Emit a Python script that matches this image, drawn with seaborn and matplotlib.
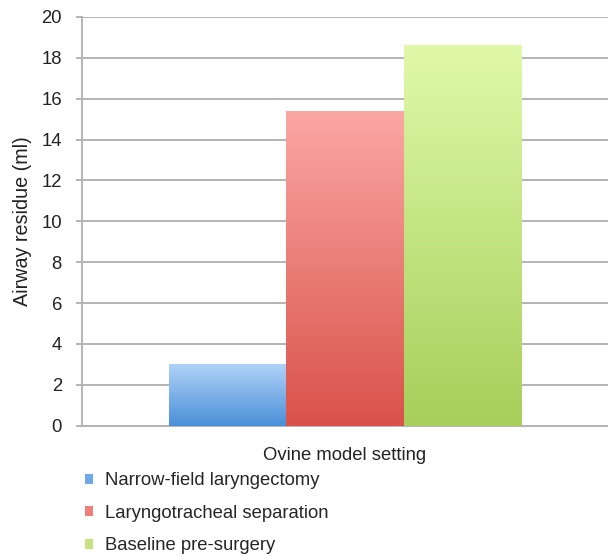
import numpy as np
import pandas as pd
import matplotlib
matplotlib.use("Agg")
import matplotlib.pyplot as plt
import seaborn as sns
from matplotlib.colors import LinearSegmentedColormap
from matplotlib.patches import Rectangle

# Values
setting = ["Ovine model setting"] * 3
categories = ["Narrow-field laryngectomy", "Laryngotracheal separation", "Baseline pre-surgery"]
residue_ml = [3.0, 15.4, 18.6]
y_ticks = [0, 2, 4, 6, 8, 10, 12, 14, 16, 18, 20]

# Gradient colours per series (top, bottom) and a flat legend swatch colour
grad_top = ["#b0d2f8", "#fba7a4", "#e0f9a9"]
grad_bottom = ["#4a8fd8", "#d9524a", "#a6cf5a"]
swatch = ["#6fa8e8", "#ee7f7a", "#c4e280"]

df = pd.DataFrame({"setting": setting, "group": categories, "residue": residue_ml})

sns.set_style("white")
plt.rcParams["font.family"] = ["Liberation Sans", "DejaVu Sans"]

fig = plt.figure(figsize=(6.08, 5.57), dpi=100)
ax = fig.add_axes([0.135, 0.2357, 0.865, 0.734])

sns.barplot(data=df, x="setting", y="residue", hue="group", hue_order=categories,
            palette=swatch, width=0.67, ax=ax, legend=False, saturation=1,
            edgecolor="none", linewidth=0, zorder=3)

# Vertical gradient fill over each bar
for patch, top, bot in zip(ax.patches, grad_top, grad_bottom):
    x0, y0 = patch.get_x(), patch.get_y()
    w, h = patch.get_width(), patch.get_height()
    cmap = LinearSegmentedColormap.from_list("g", [bot, top])
    grad = np.linspace(0, 1, 256).reshape(-1, 1)
    ax.imshow(grad, cmap=cmap, aspect="auto", origin="lower",
              extent=(x0, x0 + w, y0, y0 + h), zorder=4, interpolation="bicubic")

ax.set_xlim(-0.5, 0.5)
ax.set_ylim(0, 20)
ax.set_yticks(y_ticks)
ax.set_yticklabels([str(t) for t in y_ticks], fontsize=13.3, color="#222222")
ax.yaxis.grid(True, color="#b4b4b4", linewidth=1.4, zorder=0)
ax.set_axisbelow(True)
ax.tick_params(axis="y", length=4.5, width=1.4, color="#b4b4b4", pad=10, left=True)
ax.set_xticks([])
ax.set_xlabel("Ovine model setting", fontsize=13.3, color="#222222", labelpad=15.5)
ax.set_ylabel("Airway residue (ml)", fontsize=14.2, color="#222222", labelpad=7)

for side in ["top", "right"]:
    ax.spines[side].set_visible(False)
for side in ["left", "bottom"]:
    ax.spines[side].set_color("#b4b4b4")
    ax.spines[side].set_linewidth(1.4)

handles = [Rectangle((0, 0), 1, 1, facecolor=c, edgecolor="none") for c in swatch]
fig.legend(handles, categories, loc="upper left", bbox_to_anchor=(0.14, 0.152),
           frameon=False, fontsize=13.3, handlelength=0.45, handleheight=0.45,
           handletextpad=0.65, labelspacing=0.84, borderaxespad=0, borderpad=0)

fig.savefig("out.png", dpi=100)
